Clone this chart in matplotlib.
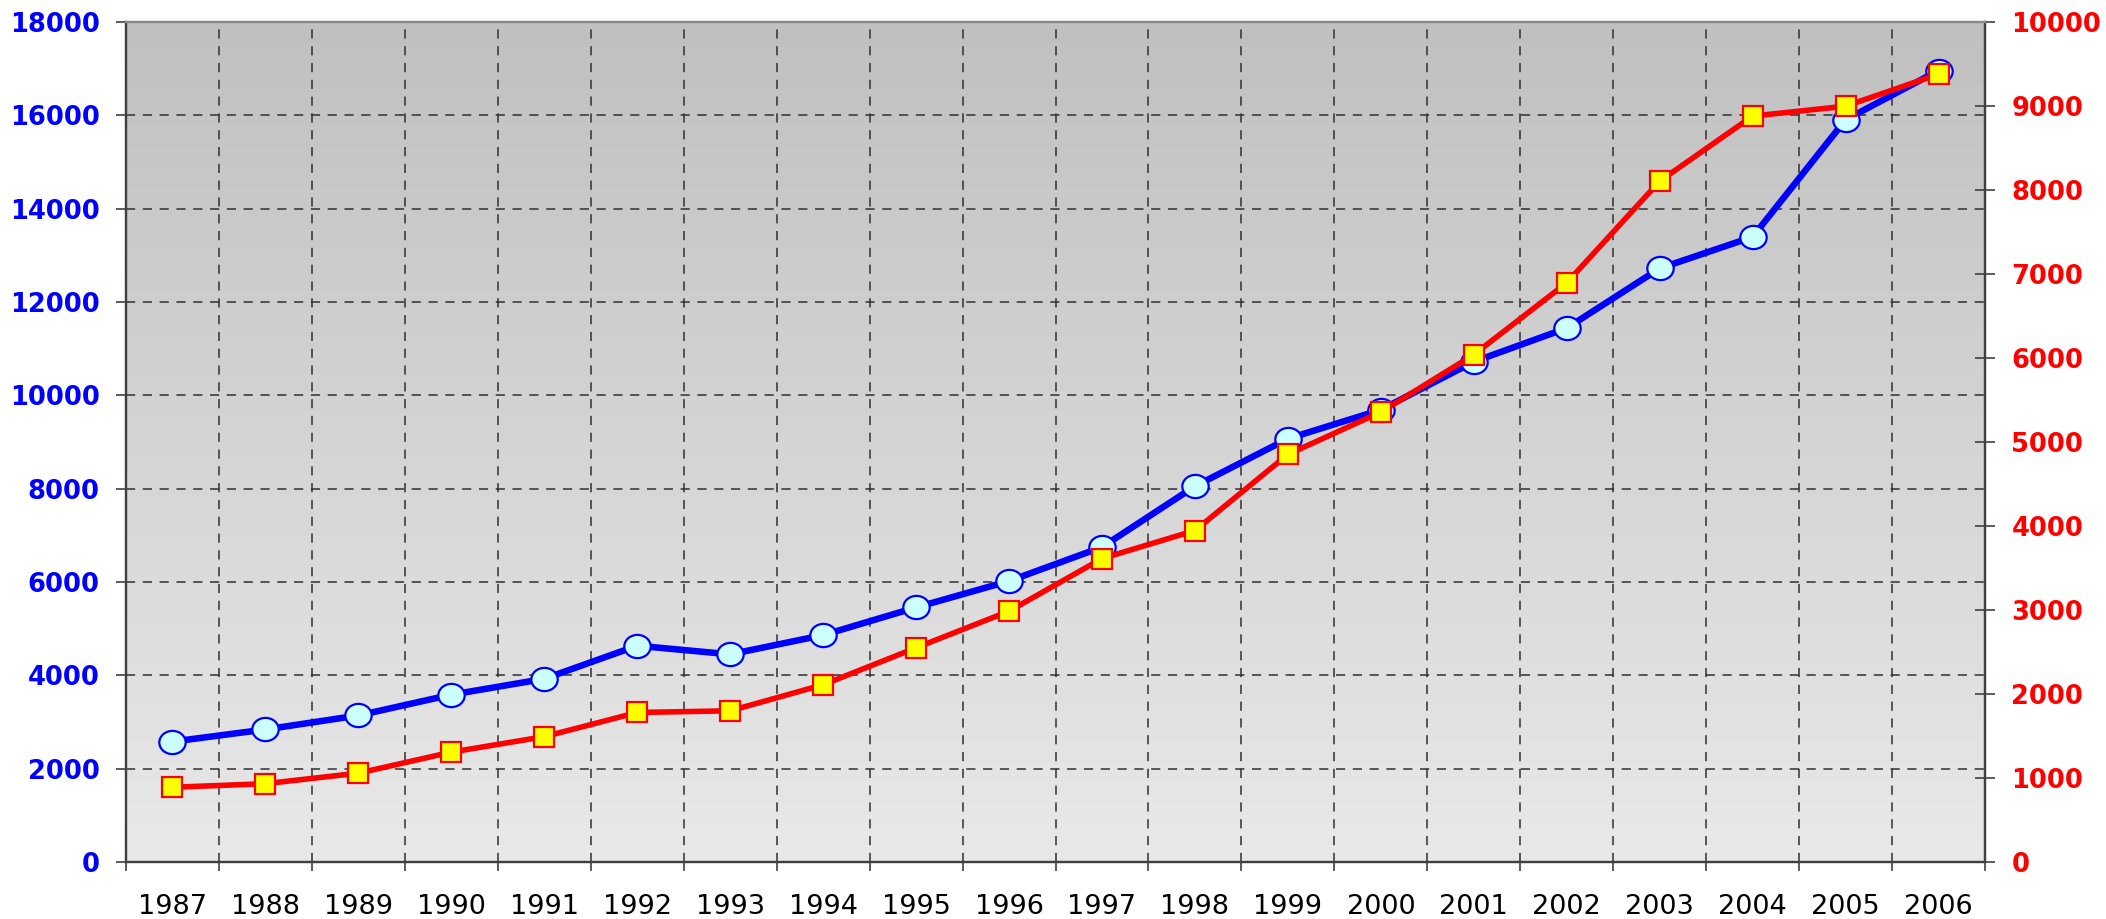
import numpy as np
import matplotlib
matplotlib.use("Agg")
import matplotlib.pyplot as plt
from matplotlib.path import Path

years = [str(y) for y in range(1987, 2007)]
blue_vals = [2580, 2840, 3140, 3585, 3925, 4635, 4450, 4862, 5455, 6020,
             6748, 8052, 9070, 9690, 10720, 11440, 12720, 13395, 15905, 16960]
red_vals = [890, 932, 1058, 1308, 1492, 1780, 1800, 2110, 2550, 2986,
            3612, 3946, 4852, 5356, 6040, 6895, 8105, 8880, 8998, 9380]

left_ticks = list(range(0, 18001, 2000))
right_ticks = list(range(0, 10001, 1000))

plt.rcParams['font.family'] = ['DejaVu Sans']

fig = plt.figure(figsize=(21.06, 9.19), dpi=100)
ax = fig.add_axes([126 / 2106, 1 - 862 / 919, (1985 - 126) / 2106, (862 - 22) / 919])

# gradient background of the plot area, darker at the top
grad = np.linspace(0.753, 0.913, 256).reshape(-1, 1)
ax.imshow(np.dstack([grad, grad, grad]), extent=[0, 1, 0, 1], transform=ax.transAxes,
          aspect='auto', zorder=0, interpolation='bilinear', origin='upper')

x = np.arange(len(years))
ax.set_xlim(-0.5, len(years) - 0.5)
ax.set_ylim(0, 18000)

# ellipse marker for the blue series
circ = Path.unit_circle()
ellipse = Path(circ.vertices * np.array([1.0, 0.88]), circ.codes)

ax.plot(x, blue_vals, color='#0000FF', lw=4.7, marker=ellipse, ms=19,
        mfc='#CCFFFF', mec='#0000FF', mew=1.6, zorder=5)

ax2 = ax.twinx()
ax2.set_ylim(0, 10000)
ax2.plot(x, red_vals, color='#FF0000', lw=4.0, marker='s', ms=15,
         mfc='#FFFF00', mec='#FF0000', mew=1.6, zorder=5)

# grid lines
dash = (0, (6, 5))
for v in left_ticks[1:-1]:
    ax.axhline(v, color='#303030', lw=1.1, ls=dash, zorder=2)
for b in np.arange(0.5, len(years) - 1, 1):
    ax.axvline(b, color='#303030', lw=1.1, ls=dash, zorder=2)

# x axis: ticks at boundaries, labels at centers
ax.set_xticks(np.arange(-0.5, len(years), 1))
ax.set_xticklabels([])
ax.set_xticks(x, minor=True)
ax.set_xticklabels(years, minor=True, fontsize=19.5, color='black')
ax.tick_params(axis='x', which='major', length=6.5, width=1.2, color='#404040', direction='out')
ax.tick_params(axis='x', which='minor', length=0, pad=23)

ax.set_yticks(left_ticks)
ax.set_yticklabels([str(v) for v in left_ticks], fontsize=18.5, fontweight='bold', color='#0000FF')
ax.tick_params(axis='y', length=7, width=1.2, color='#404040', direction='out', pad=12)

ax2.set_yticks(right_ticks)
ax2.set_yticklabels([str(v) for v in right_ticks], fontsize=18.5, fontweight='bold', color='#FF0000')
ax2.tick_params(axis='y', length=14, width=1.2, color='#404040', direction='inout', pad=12)

for a in (ax, ax2):
    a.patch.set_visible(False)
    for side in ('left', 'bottom', 'right'):
        a.spines[side].set_color('#404040')
        a.spines[side].set_linewidth(1.6)
    a.spines['top'].set_color('#8a8a8a')
    a.spines['top'].set_linewidth(1.6)

fig.savefig('out.png', dpi=100, facecolor='white')
